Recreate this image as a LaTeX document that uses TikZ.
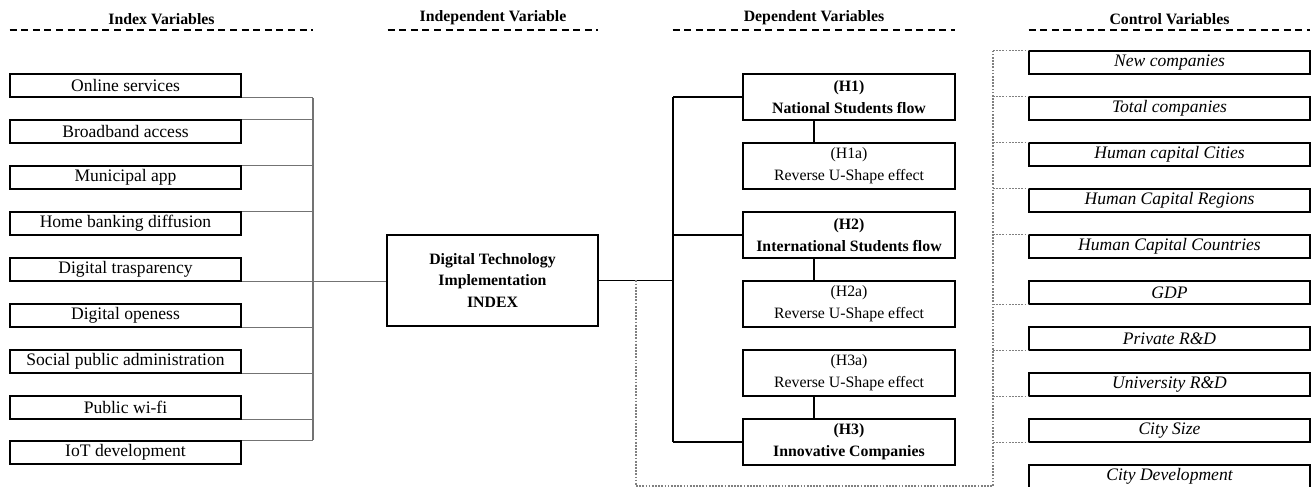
\documentclass[tikz,border=0pt]{standalone}
\usepackage{fontspec}
\setmainfont{Liberation Serif}
\tikzset{
  head/.style={font=\fontsize{9}{11}\selectfont\bfseries, inner xsep=0pt, inner ysep=3pt, anchor=south},
  headline/.style={dash pattern=on 4pt off 2.6pt, line width=0.8pt},
  indexbox/.style={draw, line width=1pt, minimum width=4.62cm, minimum height=0.46cm, inner sep=0pt, font=\fontsize{10}{12}\selectfont},
  mainbox/.style={draw, line width=1pt, minimum width=4.22cm, minimum height=1.82cm, inner sep=0pt, align=center, font=\fontsize{9}{12}\selectfont\bfseries},
  depbox/.style={draw, line width=1pt, minimum width=4.24cm, minimum height=0.92cm, inner sep=0pt, align=center, font=\fontsize{9}{12.5}\selectfont},
  ctrlbox/.style={draw, line width=1pt, minimum width=5.62cm, minimum height=0.46cm, inner sep=0pt, font=\fontsize{10}{12}\selectfont\itshape},
  glink/.style={draw=black!55, line width=0.6pt},
  blink/.style={draw=black, line width=0.9pt},
  dlink/.style={draw=black!50, line width=0.6pt, dash pattern=on 1pt off 0.8pt}
}
\begin{document}
\begin{tikzpicture}
    \def\x{0.02}
    \def\y{-0.02}
    \useasboundingbox (0,0) rectangle (1312*\x, 487*\y);
    % headers
    \node[head, minimum width=6.06cm] (T0) at (161.5*\x, 30*\y) {Index Variables};
    \node[head, minimum width=4.20cm] (T1) at (493*\x, 30*\y) {Independent Variable};
    \node[head, minimum width=5.64cm] (T2) at (814*\x, 30*\y) {Dependent Variables};
    \node[head, minimum width=5.62cm] (T3) at (1169.5*\x, 30*\y) {Control Variables};
    \path (T0.south west) edge [headline] (T0.south east);
    \path (T1.south west) edge [headline] (T1.south east);
    \path (T2.south west) edge [headline] (T2.south east);
    \path (T3.south west) edge [headline] (T3.south east);
    % index variables
    \node[indexbox] (A1_0) at (125.5*\x, 85.5*\y) {Online services};
    \node[indexbox] (A2_0) at (125.5*\x, 131.5*\y) {Broadband access};
    \node[indexbox] (A3_0) at (125.5*\x, 177.5*\y) {Municipal app};
    \node[indexbox] (A4_0) at (125.5*\x, 223.5*\y) {Home banking diffusion};
    \node[indexbox] (A5_0) at (125.5*\x, 269.5*\y) {Digital trasparency};
    \node[indexbox] (A6_0) at (125.5*\x, 315.5*\y) {Digital openess};
    \node[indexbox] (A7_0) at (125.5*\x, 361.5*\y) {Social public administration};
    \node[indexbox] (A8_0) at (125.5*\x, 407.5*\y) {Public wi-fi};
    \node[indexbox] (A9_0) at (125.5*\x, 452.5*\y) {IoT development};
    % independent variable
    \node[mainbox] (A5_1) at (492.5*\x, 280.5*\y) {Digital Technology\\Implementation\\INDEX};
    % dependent variables
    \node[depbox] (A1_2) at (849*\x, 97*\y) {\textbf{(H1)}\\\textbf{National Students flow}};
    \node[depbox] (A2_2) at (849*\x, 166*\y) {(H1a)\\Reverse U-Shape effect};
    \node[depbox] (A3_2) at (849*\x, 235*\y) {\textbf{(H2)}\\\textbf{International Students flow}};
    \node[depbox] (A4_2) at (849*\x, 304*\y) {(H2a)\\Reverse U-Shape effect};
    \node[depbox] (A5_2) at (849*\x, 373*\y) {(H3a)\\Reverse U-Shape effect};
    \node[depbox] (A6_2) at (849*\x, 442*\y) {\textbf{(H3)}\\\textbf{Innovative Companies}};
    % control variables
    \node[ctrlbox] (A1_3) at (1169.5*\x, 62.5*\y) {New companies};
    \node[ctrlbox] (A2_3) at (1169.5*\x, 108.5*\y) {Total companies};
    \node[ctrlbox] (A3_3) at (1169.5*\x, 154.5*\y) {Human capital Cities};
    \node[ctrlbox] (A4_3) at (1169.5*\x, 200.5*\y) {Human Capital Regions};
    \node[ctrlbox] (A5_3) at (1169.5*\x, 246.5*\y) {Human Capital Countries};
    \node[ctrlbox] (A6_3) at (1169.5*\x, 292.5*\y) {GDP};
    \node[ctrlbox] (A7_3) at (1169.5*\x, 338.5*\y) {Private R\&D};
    \node[ctrlbox] (A8_3) at (1169.5*\x, 384.5*\y) {University R\&D};
    \node[ctrlbox] (A9_3) at (1169.5*\x, 430.5*\y) {City Size};
    \node[ctrlbox] (A10_3) at (1169.5*\x, 476.5*\y) {City Development};
    % bus lines
    \coordinate (B0) at (313*\x, 0);
    \coordinate (B1) at (673*\x, 0);
    \coordinate (V2) at (814*\x, 0);
    \coordinate (D0) at (636*\x, 486*\y);
    \coordinate (D1) at (993*\x, 486*\y);
    \coordinate (D2) at (993*\x, 51*\y);
    \path (A1_0.south east) edge [glink] (A1_0.south east -| B0);
    \path (A2_0.north east) edge [glink] (A2_0.north east -| B0);
    \path (A3_0.north east) edge [glink] (A3_0.north east -| B0);
    \path (A4_0.north east) edge [glink] (A4_0.north east -| B0);
    \path (A5_0.south east) edge [glink] (A5_0.south east -| A5_1.west);
    \path (A6_0.south east) edge [glink] (A6_0.south east -| B0);
    \path (A7_0.south east) edge [glink] (A7_0.south east -| B0);
    \path (A8_0.south east) edge [glink] (A8_0.south east -| B0);
    \path (A9_0.north east) edge [glink] (A9_0.north east -| B0);
    \path (A1_0.south east -| B0) edge [glink] (A9_0.north east -| B0);
    \path (A5_1.east) edge [blink] (A5_1.east -| B1);
    \path (A1_2.west -| B1) edge [blink] (A6_2.west -| B1);
    \path (A1_2.west -| B1) edge [blink] (A1_2.west);
    \path (A3_2.west -| B1) edge [blink] (A3_2.west);
    \path (A6_2.west -| B1) edge [blink] (A6_2.west);
    \path (A1_2.south -| V2) edge [blink] (A2_2.north -| V2);
    \path (A3_2.south -| V2) edge [blink] (A4_2.north -| V2);
    \path (A5_2.south -| V2) edge [blink] (A6_2.north -| V2);
    % control links
    \draw[dlink] (A5_1.east -| D0) -- (D0) -- (D1) -- (D2);
    \path (A1_3.north west -| D2) edge [dlink] (A1_3.north west);
    \path (A2_3.north west -| D2) edge [dlink] (A2_3.north west);
    \path (A3_3.north west -| D2) edge [dlink] (A3_3.north west);
    \path (A4_3.north west -| D2) edge [dlink] (A4_3.north west);
    \path (A5_3.north west -| D2) edge [dlink] (A5_3.north west);
    \path (A6_3.south west -| D2) edge [dlink] (A6_3.south west);
    \path (A7_3.south west -| D2) edge [dlink] (A7_3.south west);
    \path (A8_3.south west -| D2) edge [dlink] (A8_3.south west);
    \path (A9_3.south west -| D2) edge [dlink] (A9_3.south west);
  \end{tikzpicture}
\end{document}
